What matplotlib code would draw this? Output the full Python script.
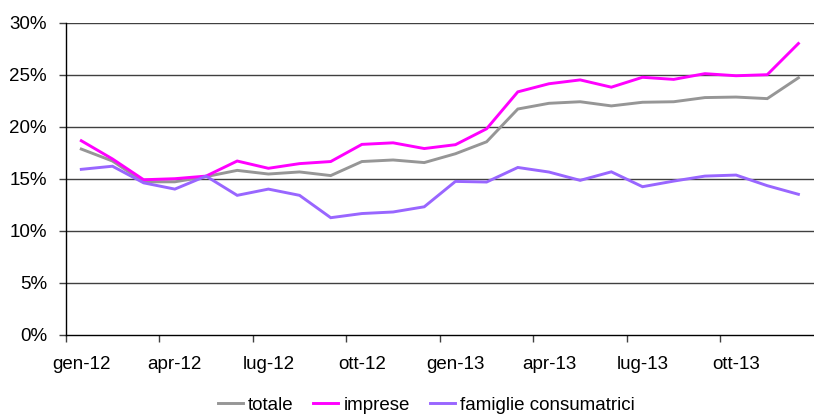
import matplotlib
matplotlib.use("Agg")
import matplotlib.pyplot as plt
from matplotlib.ticker import FixedLocator, FuncFormatter

plt.rcParams['font.family'] = ['Liberation Sans', 'DejaVu Sans']

months = ["gen-12", "feb-12", "mar-12", "apr-12", "mag-12", "giu-12",
          "lug-12", "ago-12", "set-12", "ott-12", "nov-12", "dic-12",
          "gen-13", "feb-13", "mar-13", "apr-13", "mag-13", "giu-13",
          "lug-13", "ago-13", "set-13", "ott-13", "nov-13", "dic-13"]

totale = [17.85, 16.7, 14.7, 14.7, 15.2, 15.8, 15.45, 15.65, 15.3, 16.65, 16.8, 16.55,
          17.4, 18.55, 21.7, 22.25, 22.4, 22.0, 22.35, 22.4, 22.8, 22.85, 22.7, 24.7]
imprese = [18.65, 16.9, 14.9, 15.0, 15.25, 16.7, 16.0, 16.45, 16.65, 18.3, 18.45, 17.9,
           18.27, 19.8, 23.35, 24.13, 24.5, 23.8, 24.75, 24.55, 25.1, 24.9, 25.0, 28.0]
famiglie = [15.9, 16.2, 14.6, 14.0, 15.25, 13.4, 14.0, 13.4, 11.25, 11.65, 11.8, 12.3,
            14.74, 14.68, 16.08, 15.64, 14.84, 15.66, 14.23, 14.77, 15.25, 15.35, 14.33, 13.5]

series_names = ["totale", "imprese", "famiglie consumatrici"]
colors = ["#969696", "#FF00FF", "#9966FF"]
yticks = [0, 5, 10, 15, 20, 25, 30]

FS = 13.5

fig = plt.figure(figsize=(8.14, 4.15), dpi=100)
ax = fig.add_axes([65.7 / 814, 1 - 334.7 / 415, (814 - 65.7) / 814, (334.7 - 22.7) / 415])

x = list(range(len(months)))
for vals, name, c in zip([totale, imprese, famiglie], series_names, colors):
    ax.plot(x, vals, color=c, lw=2.1, label=name, solid_joinstyle='miter', zorder=3)

ax.set_xlim(-0.5, len(months) - 0.5)
ax.set_ylim(0, 30)

# y axis
ax.set_yticks(yticks)
ax.yaxis.set_major_formatter(FuncFormatter(lambda v, p: f"{int(v)}%"))
ax.tick_params(axis='y', length=5, width=1, color='#404040', labelsize=FS, pad=8.5)
for yv in yticks[1:]:
    ax.axhline(yv, color='#404040', lw=1.0, zorder=1)

# x axis: ticks at boundaries, labels at category centres
ax.xaxis.set_major_locator(FixedLocator([i - 0.5 for i in range(0, len(months), 3)]))
ax.xaxis.set_major_formatter(FuncFormatter(lambda v, p: ""))
ax.xaxis.set_minor_locator(FixedLocator(list(range(0, len(months), 3))))
ax.xaxis.set_minor_formatter(FuncFormatter(lambda v, p: months[int(round(v))]))
ax.tick_params(axis='x', which='major', length=5, width=1, color='#404040')
ax.tick_params(axis='x', which='minor', length=0, labelsize=FS, pad=15.5)

for s in ['top', 'right']:
    ax.spines[s].set_visible(False)
ax.spines['left'].set_color('black')
ax.spines['bottom'].set_color('black')
ax.spines['left'].set_linewidth(1.0)
ax.spines['bottom'].set_linewidth(1.0)

leg = fig.legend(loc='center', bbox_to_anchor=(426 / 814, 1 - 405 / 415), ncol=3,
                 frameon=False, fontsize=FS, handlelength=1.33, handletextpad=0.27,
                 columnspacing=1.07, borderaxespad=0, borderpad=0)

fig.savefig("out.png", dpi=100)
